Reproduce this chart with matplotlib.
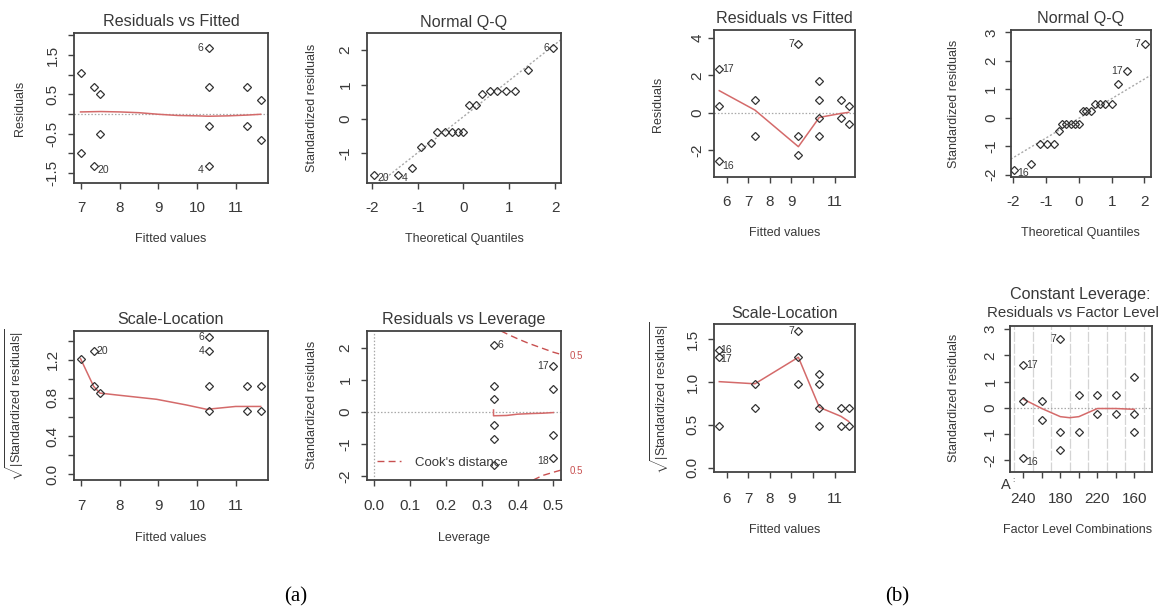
import matplotlib
matplotlib.use("Agg")
import matplotlib.pyplot as plt

# ---------------- data ----------------
# (a) Residuals vs Fitted
fit_a = [6.98, 7.0, 7.32, 7.32, 7.48, 7.48, 10.30, 10.30, 10.30, 10.30, 11.30, 11.30, 11.65, 11.65]
res_a = [1.03, -0.99, 0.69, -1.32, 0.51, -0.50, 1.69, 0.69, -0.32, -1.33, 0.69, -0.32, 0.36, -0.66]
smooth_a_x = [6.98, 7.5, 8.0, 8.5, 9.0, 9.5, 10.0, 10.3, 10.8, 11.3, 11.65]
smooth_a_y = [0.05, 0.06, 0.05, 0.03, -0.01, -0.04, -0.05, -0.06, -0.05, -0.03, -0.01]

# (a) Normal Q-Q
qq_a_x = [-1.96, -1.44, -1.13, -0.92, -0.71, -0.57, -0.41, -0.26, -0.12, 0.0,
          0.13, 0.27, 0.41, 0.57, 0.73, 0.92, 1.13, 1.42, 1.96]
qq_a_y = [-1.62, -1.62, -1.43, -0.80, -0.71, -0.39, -0.39, -0.39, -0.39, -0.39,
          0.40, 0.40, 0.73, 0.82, 0.82, 0.82, 0.82, 1.43, 2.05]
qqline_a = (0.07, 1.05)  # intercept, slope

# (a) Scale-Location
sl_a_x = [6.98, 7.32, 7.32, 7.48, 10.30, 10.30, 10.30, 10.30, 11.30, 11.30, 11.65, 11.65]
sl_a_y = [1.21, 1.29, 0.92, 0.85, 1.44, 1.29, 0.92, 0.66, 0.92, 0.66, 0.92, 0.66]
sl_a_sx = [6.98, 7.32, 7.48, 7.92, 8.95, 9.73, 10.25, 10.5, 11.0, 11.65]
sl_a_sy = [1.21, 0.92, 0.85, 0.83, 0.785, 0.725, 0.68, 0.69, 0.71, 0.71]

# (a) Residuals vs Leverage
lev_a = [0.333, 0.333, 0.333, 0.333, 0.333, 0.333, 0.5, 0.5, 0.5, 0.5]
lev_res_a = [2.08, 0.82, 0.42, -0.41, -0.82, -1.64, 1.44, 0.73, -0.70, -1.42]
lev_sx = [0.333, 0.333, 0.37, 0.40, 0.44, 0.47, 0.5]
lev_sy = [0.07, -0.11, -0.10, -0.06, -0.04, -0.03, -0.01]
cook_up_x = [0.354, 0.38, 0.40, 0.43, 0.45, 0.48, 0.50, 0.522]
cook_up_y = [2.53, 2.39, 2.29, 2.15, 2.07, 1.95, 1.87, 1.80]
cook_lo_x = [0.444, 0.47, 0.50, 0.522]
cook_lo_y = [-2.11, -1.97, -1.87, -1.80]

# (b) Residuals vs Fitted
fit_b = [5.66, 5.66, 5.66, 7.31, 7.31, 9.32, 9.32, 9.32, 10.29, 10.29, 10.29, 10.29,
         11.29, 11.29, 11.65, 11.65]
res_b = [2.36, 0.36, -2.61, 0.70, -1.27, 3.66, -1.27, -2.29, 1.71, 0.70, -0.30, -1.27,
         0.70, -0.30, 0.36, -0.62]
smooth_b_x = [5.66, 7.31, 9.32, 10.29, 11.29, 11.65]
smooth_b_y = [1.18, 0.14, -1.82, -0.25, -0.04, 0.02]

# (b) Normal Q-Q
qq_b_x = [-1.98, -1.45, -1.18, -0.96, -0.76, -0.61, -0.51, -0.38, -0.25, -0.12, 0.0,
          0.11, 0.23, 0.36, 0.48, 0.64, 0.81, 1.0, 1.20, 1.47, 2.01]
qq_b_y = [-1.83, -1.64, -0.92, -0.92, -0.92, -0.48, -0.22, -0.22, -0.22, -0.22, -0.22,
          0.25, 0.25, 0.25, 0.48, 0.48, 0.48, 0.48, 1.18, 1.65, 2.58]
qqline_b = (-0.02, 0.69)

# (b) Scale-Location
sl_b_x = fit_b
sl_b_y = [1.375, 0.49, 1.29, 0.98, 0.70, 1.60, 1.29, 0.98, 1.09, 0.98, 0.70, 0.49,
          0.70, 0.49, 0.70, 0.49]
sl_b_sx = [5.66, 7.31, 9.32, 10.29, 11.29, 11.65]
sl_b_sy = [1.005, 0.98, 1.29, 0.705, 0.60, 0.54]

# (b) Constant Leverage: Residuals vs Factor Levels
factor_labels = ["240", "", "180", "", "220", "", "160"]
fac_idx = [1, 1, 1, 2, 2, 3, 3, 3, 4, 4, 5, 5, 6, 6, 7, 7, 7]
fac_res = [1.63, 0.27, -1.91, 0.27, -0.47, 2.61, -0.94, -1.63, 0.48, -0.94, 0.48, -0.25,
           0.48, -0.25, 1.18, -0.25, -0.94]
fac_sx = [1, 2, 3, 3.5, 4, 5, 6, 7]
fac_sy = [0.33, -0.03, -0.34, -0.38, -0.34, -0.03, -0.03, -0.06]

# ---------------- style ----------------
W, H = 1168, 612
FONT = ["Liberation Sans", "DejaVu Sans"]
plt.rcParams["font.family"] = FONT
plt.rcParams["mathtext.fontset"] = "custom"
plt.rcParams["mathtext.rm"] = "Liberation Sans"
FRAME = "#424242"
TXT = "#383838"
RED = "#d46a6a"
GRAY = "#a8a8a8"
TITLE = 11.6
AXL = 9
TICK = 11

fig = plt.figure(figsize=(W / 100, H / 100), dpi=100)
fig.patch.set_facecolor("white")


def px(x, y):
    return x / W, 1 - y / H


def add_ax(L, T, R, B):
    return fig.add_axes([L / W, 1 - B / H, (R - L) / W, (B - T) / H])


def ftext(x, y, s, size, **kw):
    fx, fy = px(x, y)
    kw.setdefault("ha", "center")
    kw.setdefault("va", "center")
    kw.setdefault("color", TXT)
    fig.text(fx, fy, s, fontsize=size, **kw)


def style(ax, xlim, ylim, xt, xtl, yt, ytl, xpad=8.5, ypad=6.0):
    ax.set_xlim(*xlim)
    ax.set_ylim(*ylim)
    ax.set_xticks(xt)
    ax.set_xticklabels(xtl)
    ax.set_yticks(yt)
    ax.set_yticklabels(ytl, rotation=90, va="center")
    ax.tick_params(direction="out", length=4.5, width=1.0, color=FRAME,
                   labelsize=TICK, labelcolor=TXT)
    ax.tick_params(axis="x", pad=xpad)
    ax.tick_params(axis="y", pad=ypad)
    for s in ax.spines.values():
        s.set_color(FRAME)
        s.set_linewidth(1.3)


def pts(ax, x, y):
    ax.plot(x, y, linestyle="none", marker="D", markersize=3.8, markerfacecolor="none",
            markeredgecolor="#333333", markeredgewidth=0.9, zorder=4)


def lab(ax, x, y, s, dx, dy, ha):
    ax.annotate(s, (x, y), xytext=(dx, dy), textcoords="offset points", ha=ha,
                va="center", fontsize=7.5, color=TXT, annotation_clip=False)


def hzero(ax):
    ax.axhline(0, color=GRAY, linestyle=(0, (1.2, 1.5)), linewidth=0.9, zorder=1)


# ---- Panel 1: (a) Residuals vs Fitted
ax1 = add_ax(74, 33, 268, 183)
style(ax1, (6.81, 11.84), (-1.76, 2.06), [7, 8, 9, 10, 11], ["7", "8", "9", "10", "11"],
      [-1.5, -1.0, -0.5, 0, 0.5, 1.0, 1.5, 2.0], ["-1.5", "", "-0.5", "", "0.5", "", "1.5", ""])
hzero(ax1)
ax1.plot(smooth_a_x, smooth_a_y, color=RED, lw=1.1, zorder=3)
pts(ax1, fit_a, res_a)
lab(ax1, 10.30, 1.69, "6", -4, 0, "right")
lab(ax1, 7.32, -1.32, "20", 3, -3, "left")
lab(ax1, 10.30, -1.33, "4", -4, -3, "right")
ftext(171, 22, "Residuals vs Fitted", TITLE)
ftext(171, 239, "Fitted values", AXL)
ftext(20, 108, "Residuals", AXL, rotation=90)

# ---- Panel 2: (a) Normal Q-Q
ax2 = add_ax(367.3, 33, 561, 183)
style(ax2, (-2.10, 2.13), (-1.86, 2.50), [-2, -1, 0, 1, 2], ["-2", "-1", "0", "1", "2"],
      [-1, 0, 1, 2], ["-1", "0", "1", "2"])
ax2.axline((0, qqline_a[0]), slope=qqline_a[1], color=GRAY, linestyle=(0, (1.5, 1.5)),
           linewidth=1.0, zorder=1)
pts(ax2, qq_a_x, qq_a_y)
lab(ax2, -1.96, -1.62, "20", 3, -2, "left")
lab(ax2, -1.44, -1.62, "4", 3, -2, "left")
lab(ax2, 1.96, 2.05, "6", -3, 0, "right")
ftext(464, 22, "Normal Q-Q", TITLE)
ftext(464, 239, "Theoretical Quantiles", AXL)
ftext(311.7, 108, "Standardized residuals", AXL, rotation=90)

# ---- Panel 3: (a) Scale-Location
ax3 = add_ax(74, 331, 268, 480)
style(ax3, (6.81, 11.84), (-0.06, 1.50), [7, 8, 9, 10, 11], ["7", "8", "9", "10", "11"],
      [0, 0.2, 0.4, 0.6, 0.8, 1.0, 1.2, 1.4], ["0.0", "", "0.4", "", "0.8", "", "1.2", ""],
      xpad=9.5)
ax3.plot(sl_a_sx, sl_a_sy, color=RED, lw=1.1, zorder=3)
pts(ax3, sl_a_x, sl_a_y)
lab(ax3, 7.32, 1.29, "20", 2, 0, "left")
lab(ax3, 10.30, 1.44, "6", -3, 0, "right")
lab(ax3, 10.30, 1.29, "4", -3, 0, "right")
ftext(171, 319.3, "Scale-Location", TITLE)
ftext(171, 538.3, "Fitted values", AXL)
ftext(15, 405, r"$\sqrt{|\mathrm{Standardized\ residuals}|}$", AXL, rotation=90)

# ---- Panel 4: (a) Residuals vs Leverage
ax4 = add_ax(367.3, 331, 561, 480)
style(ax4, (-0.0196, 0.5215), (-2.11, 2.53), [0, 0.1, 0.2, 0.3, 0.4, 0.5],
      ["0.0", "0.1", "0.2", "0.3", "0.4", "0.5"], [-2, -1, 0, 1, 2], ["-2", "-1", "0", "1", "2"],
      xpad=9.5)
hzero(ax4)
ax4.axvline(0, color=GRAY, linestyle=(0, (1.2, 1.5)), linewidth=0.9, zorder=1)
ax4.plot(lev_sx, lev_sy, color=RED, lw=1.1, zorder=3)
cook_line, = ax4.plot(cook_up_x, cook_up_y, color="#c85050", lw=1.0, linestyle=(0, (5, 3)),
                      zorder=2, label="Cook's distance")
ax4.plot(cook_lo_x, cook_lo_y, color="#c85050", lw=1.0, linestyle=(0, (5, 3)), zorder=2)
pts(ax4, lev_a, lev_res_a)
lab(ax4, 0.333, 2.08, "6", 3, 0, "left")
lab(ax4, 0.5, 1.44, "17", -3, 0, "right")
lab(ax4, 0.5, -1.42, "18", -3, -2, "right")
ax4.legend(handles=[cook_line], loc="lower left", frameon=False, fontsize=9.5,
           handlelength=1.8, handletextpad=1.1, borderaxespad=0.2,
           bbox_to_anchor=(0.01, 0.02), labelcolor=TXT)
ftext(570, 356, "0.5", 7, color="#c85050", ha="left")
ftext(570, 471, "0.5", 7, color="#c85050", ha="left")
ftext(464, 319.3, "Residuals vs Leverage", TITLE)
ftext(464, 538.3, "Leverage", AXL)
ftext(312.3, 405, "Standardized residuals", AXL, rotation=90)

# ---- Panel 5: (b) Residuals vs Fitted
ax5 = add_ax(714.3, 30, 855, 177.3)
style(ax5, (5.43, 11.94), (-3.46, 4.43), [6, 7, 8, 9, 10, 11], ["6", "7", "8", "9", "", "11"],
      [-2, 0, 2, 4], ["-2", "0", "2", "4"], ypad=2.5)
hzero(ax5)
ax5.plot(smooth_b_x, smooth_b_y, color=RED, lw=1.1, zorder=3)
pts(ax5, fit_b, res_b)
lab(ax5, 5.66, 2.36, "17", 2, 0, "left")
lab(ax5, 5.66, -2.61, "16", 2, -3, "left")
lab(ax5, 9.32, 3.66, "7", -3, 0, "right")
ftext(784.7, 18.3, "Residuals vs Fitted", TITLE)
ftext(784.7, 233.3, "Fitted values", AXL)
ftext(658.3, 104, "Residuals", AXL, rotation=90)

# ---- Panel 6: (b) Normal Q-Q
ax6 = add_ax(1010.7, 30, 1150.7, 176.7)
style(ax6, (-2.08, 2.19), (-2.07, 3.08), [-2, -1, 0, 1, 2], ["-2", "-1", "0", "1", "2"],
      [-2, -1, 0, 1, 2, 3], ["-2", "-1", "0", "1", "2", "3"], ypad=4.5)
ax6.axline((0, qqline_b[0]), slope=qqline_b[1], color=GRAY, linestyle=(0, (1.5, 1.5)),
           linewidth=1.0, zorder=1)
pts(ax6, qq_b_x, qq_b_y)
lab(ax6, -1.98, -1.83, "16", 2, -2, "left")
lab(ax6, 1.47, 1.65, "17", -3, 0, "right")
lab(ax6, 2.01, 2.58, "7", -3, 0, "right")
ftext(1080.7, 18.3, "Normal Q-Q", TITLE)
ftext(1080.7, 233.3, "Theoretical Quantiles", AXL)
ftext(954.3, 104, "Standardized residuals", AXL, rotation=90)

# ---- Panel 7: (b) Scale-Location
ax7 = add_ax(714.3, 324.3, 855, 472.3)
style(ax7, (5.43, 11.94), (-0.054, 1.675), [6, 7, 8, 9, 10, 11], ["6", "7", "8", "9", "", "11"],
      [0, 0.5, 1.0, 1.5], ["0.0", "0.5", "1.0", "1.5"], xpad=9.5)
ax7.plot(sl_b_sx, sl_b_sy, color=RED, lw=1.1, zorder=3)
pts(ax7, sl_b_x, sl_b_y)
lab(ax7, 5.66, 1.375, "16", 1, 0, "left")
lab(ax7, 5.66, 1.29, "17", 1, -1, "left")
lab(ax7, 9.32, 1.60, "7", -3, 0, "right")
ftext(784.7, 313.3, "Scale-Location", TITLE)
ftext(784.7, 530, "Fitted values", AXL)
ftext(660, 398, r"$\sqrt{|\mathrm{Standardized\ residuals}|}$", AXL, rotation=90)

# ---- Panel 8: (b) Constant Leverage
ax8 = add_ax(1010, 325.7, 1152.3, 471.7)
style(ax8, (0.28, 7.97), (-2.44, 3.13), list(range(1, len(factor_labels) + 1)), factor_labels,
      [-2, -1, 0, 1, 2, 3], ["-2", "-1", "0", "1", "2", "3"], xpad=10, ypad=4.5)
for k in range(len(factor_labels) + 1):
    ax8.axvline(k + 0.5, color="#d4d4d4", linestyle=(0, (8, 1.5)), linewidth=0.9, zorder=1)
hzero(ax8)
ax8.plot(fac_sx, fac_sy, color=RED, lw=1.1, zorder=3)
pts(ax8, fac_idx, fac_res)
lab(ax8, 1, 1.63, "17", 2, 0, "left")
lab(ax8, 1, -1.91, "16", 2, -3, "left")
lab(ax8, 3, 2.61, "7", -3, 0, "right")
ftext(1001, 485, "A", 10.5, ha="left")
ftext(1012, 481, ":", 6, ha="left")
ftext(1080, 294, "Constant Leverage:", TITLE)
ftext(987, 313.3, "Residuals vs Factor Level", 10.8, ha="left")
ftext(1078, 530, "Factor Level Combinations", AXL)
ftext(954.3, 398, "Standardized residuals", AXL, rotation=90)

# ---- captions
ftext(296, 597, "(a)", 15, family="Liberation Serif", color="black")
ftext(897, 597, "(b)", 15, family="Liberation Serif", color="black")

fig.savefig("out.png", dpi=100, facecolor="white")
